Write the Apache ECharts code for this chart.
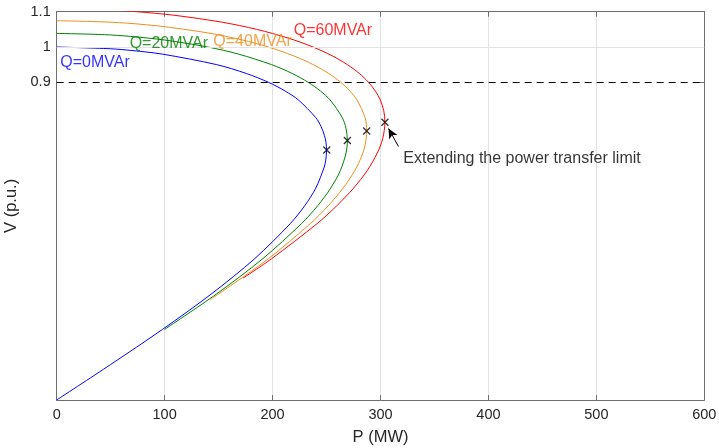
<!DOCTYPE html>
<html>
<head>
<meta charset="utf-8">
<script src="https://cdn.jsdelivr.net/npm/echarts@6/dist/echarts.min.js"></script>
<style>html,body{margin:0;padding:0;background:#fff;}#c{width:719px;height:448px;}</style>
</head>
<body>
<div id="c"></div>
<script>
// P (MW), V (p.u.) points (upper branch -> nose -> lower branch)
const q0 = [[0,1.0],[49.7,0.995],[69.8,0.99],[97.5,0.98],[148.3,0.95],[175.7,0.925],[196.2,0.9],[211.8,0.875],[223.9,0.85],[240,0.8],[244.9,0.775],[248,0.75],[249.5,0.73],[250,0.707],[249.3,0.68],[247.9,0.66],[240,0.6],[229.7,0.55],[216.5,0.5],[183.3,0.4],[143.1,0.3],[98,0.2],[49.7,0.1],[0,0]];
const q20 = [[0,1.0385],[44.2,1.035],[68.3,1.03],[99.5,1.02],[140,1.0],[168.3,0.98],[199.1,0.95],[218.2,0.925],[233,0.9],[244.5,0.875],[253.3,0.85],[264.6,0.8],[268,0.77],[269.3,0.735],[268.1,0.7],[262.8,0.65],[253.8,0.6],[241.7,0.55],[226.9,0.5],[190.8,0.4],[147.9,0.3],[100,0.2]];
const q40 = [[0,1.0745],[52.2,1.07],[92.9,1.06],[140,1.04],[171.8,1.02],[196,1.0],[219.5,0.975],[237.7,0.95],[252,0.925],[263.2,0.9],[271.8,0.875],[278.2,0.85],[285.7,0.8],[287.2,0.762],[285.6,0.72],[282.5,0.69],[276.2,0.65],[265.3,0.6],[251.5,0.55],[235.1,0.5],[196,0.4],[149.9,0.3],[142.5,0.285]];
const q60 = [[0,1.1083],[46.9,1.105],[74,1.1],[108.7,1.09],[153.7,1.07],[185.2,1.05],[214.8,1.025],[237.5,1.0],[255.3,0.975],[269.3,0.95],[280.4,0.925],[288.9,0.9],[295.3,0.875],[299.8,0.85],[303,0.82],[304.1,0.787],[302,0.74],[297.1,0.7],[287.7,0.65],[275,0.6],[259.4,0.55],[241.4,0.5],[199,0.4],[172.5,0.345]];
const nosePoints = [[250.2,0.708],[269.3,0.735],[287.2,0.762],[304.1,0.787]];
const xTicks = [0,100,200,300,400,500,600];
const yTicks = [0.9,1,1.1];
const curveNames = ['Q=0MVAr','Q=20MVAr','Q=40MVAr','Q=60MVAr'];
const curveColors = ['#0000ff','#008000','#ec8f1c','#ff0000'];
const labelPos = [[3.3,0.957],[67.6,1.0099],[145.1,1.0156],[219.6,1.0467]];
const noteText = 'Extending the power transfer limit';
const notePos = [321.1,0.685];
const arrowFrom = [316.7,0.718];
const arrowTo = [307.4,0.769];
const refV = 0.9;

const FF = '"Liberation Sans", Arial, Helvetica, sans-serif';
const axisCol = '#6e6e6e';
const txtCol = '#262626';
const chart = echarts.init(document.getElementById('c'), null, {renderer:'canvas'});

const curves = [q0,q20,q40,q60];
const series = curves.map((d,i)=>({
  type:'line', name:curveNames[i], data:d, smooth:0.3, showSymbol:false, symbol:'none',
  lineStyle:{color:curveColors[i], width:1}, clip:true, z:3, animation:false
}));
series.push({
  type:'line', data:[], z:1, animation:false,
  markLine:{silent:true, symbol:'none', label:{show:false},
    data:[
      {yAxis:1, lineStyle:{color:'#e3e3e3', type:'solid', width:1}},
      {yAxis:refV, lineStyle:{color:'#000', type:[7,5], width:1}}
    ]}
});
series.push({
  type:'scatter', data:nosePoints, z:5, animation:false,
  symbol:'path://M0,0L10,10M10,0L0,10', symbolSize:7,
  itemStyle:{color:'none', borderColor:'#000', borderWidth:1.3}
});
series.push({
  type:'scatter', z:6, animation:false, symbolSize:0,
  data: labelPos.map((p,i)=>({value:p, label:{show:true, position:'right', distance:0, formatter:curveNames[i], color:curveColors[i], fontSize:16, fontFamily:FF}}))
    .concat([{value:notePos, label:{show:true, position:'right', distance:0, formatter:noteText, color:'#000', fontSize:16, fontFamily:FF}}])
});
series.push({
  type:'line', data:[], z:6, animation:false,
  markLine:{silent:true, symbol:['none','arrow'], symbolSize:[7,10], label:{show:false},
    lineStyle:{color:'#000', type:'solid', width:1},
    data:[[{coord:arrowFrom},{coord:arrowTo}]]}
});

chart.setOption({
  animation:false,
  backgroundColor:'#fff',
  grid:{left:56.7, right:14.7, top:11.7, bottom:48, containLabel:false, outerBoundsMode:'none'},
  xAxis:[{
    type:'value', min:0, max:600, interval:100, position:'bottom',
    name:'P (MW)', nameLocation:'middle', nameGap:29,
    nameTextStyle:{fontSize:16.5, fontFamily:FF, color:txtCol},
    axisLine:{show:true, onZero:false, lineStyle:{color:axisCol, width:1}},
    axisTick:{show:true, inside:true, length:5, lineStyle:{color:axisCol}},
    axisLabel:{fontSize:14.5, fontFamily:FF, color:txtCol, margin:7, customValues:xTicks},
    splitLine:{show:true, lineStyle:{color:'#e3e3e3', width:1}}
  },{
    type:'value', min:0, max:600, interval:100, position:'top',
    axisLine:{show:true, onZero:false, lineStyle:{color:axisCol, width:1}},
    axisTick:{show:true, inside:true, length:5, lineStyle:{color:axisCol}},
    axisLabel:{show:false}, splitLine:{show:false}
  }],
  yAxis:[{
    type:'value', min:0, max:1.1, position:'left',
    name:'V (p.u.)', nameLocation:'middle', nameGap:35, nameRotate:90,
    nameTextStyle:{fontSize:16.5, fontFamily:FF, color:txtCol},
    axisLine:{show:true, onZero:false, lineStyle:{color:axisCol, width:1}},
    axisTick:{show:true, inside:true, length:5, lineStyle:{color:axisCol}, customValues:yTicks},
    axisLabel:{fontSize:14.5, fontFamily:FF, color:txtCol, margin:6, customValues:yTicks,
      formatter:v=>String(+v.toFixed(2))},
    splitLine:{show:false}
  },{
    type:'value', min:0, max:1.1, position:'right',
    axisLine:{show:true, onZero:false, lineStyle:{color:axisCol, width:1}},
    axisTick:{show:true, inside:true, length:5, lineStyle:{color:axisCol}, customValues:yTicks},
    axisLabel:{show:false}, splitLine:{show:false}
  }],
  series:series
});
</script>
</body>
</html>
